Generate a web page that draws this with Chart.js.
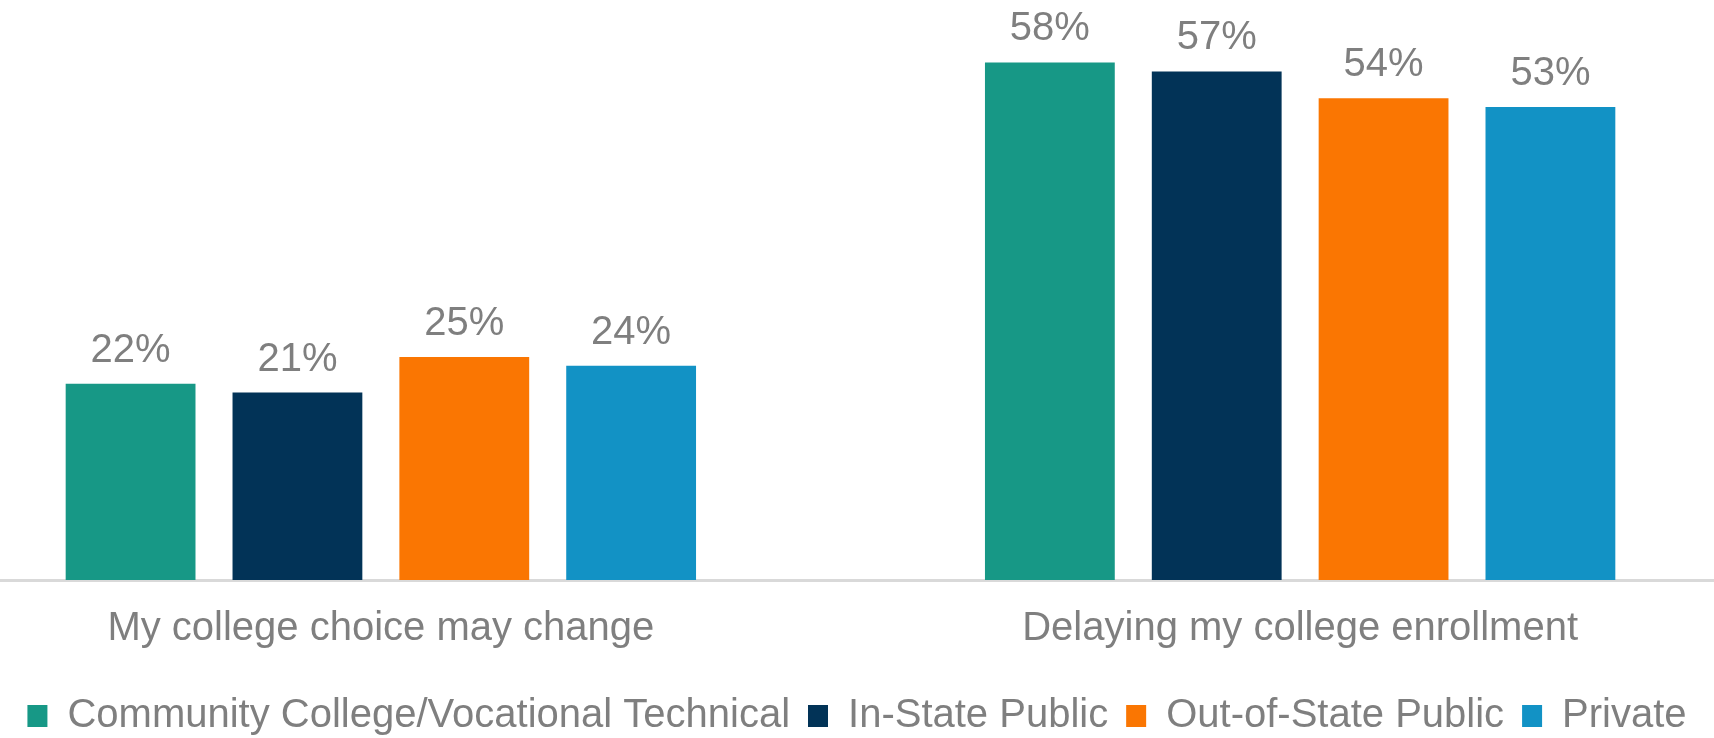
<!DOCTYPE html>
<html lang="en">
<head>
  <meta charset="UTF-8">
  <title>College Plans</title>
  <style>
    body {
      margin: 0;
      background-color: white;
    }
    .chart-box {
      width: 1714px;
      height: 738px;
      position: relative;
    }
  </style>
  <script src="https://cdn.jsdelivr.net/npm/chart.js"></script>
</head>
<body>
  <div class="chart-box">
    <canvas id="collegeChart"></canvas>
  </div>

  <script>
    const categories = ['My college choice may change', 'Delaying my college enrollment'];
    const seriesNames = ['Community College/Vocational Technical', 'In-State Public', 'Out-of-State Public', 'Private'];
    const communityCollege = [22, 58];
    const inStatePublic = [21, 57];
    const outOfStatePublic = [25, 54];
    const privateCollege = [24, 53];
    const seriesColors = ['#179886', '#023357', '#fa7602', '#1292c5'];

    const allSeries = [communityCollege, inStatePublic, outOfStatePublic, privateCollege];
    const textGray = '#7f7f7f';
    const fontFamily = "'Liberation Sans', Arial, sans-serif";

    // percent labels above each bar
    const valueLabels = {
      id: 'valueLabels',
      afterDatasetsDraw(chart) {
        const ctx = chart.ctx;
        ctx.save();
        ctx.font = '40px ' + fontFamily;
        ctx.fillStyle = textGray;
        ctx.textAlign = 'center';
        ctx.textBaseline = 'alphabetic';
        chart.data.datasets.forEach((ds, i) => {
          chart.getDatasetMeta(i).data.forEach((bar, j) => {
            ctx.fillText(ds.data[j].y + '%', bar.x, bar.y - 22);
          });
        });
        ctx.restore();
      }
    };

    const ctx = document.getElementById('collegeChart').getContext('2d');
    const collegeChart = new Chart(ctx, {
      type: 'bar',
      data: {
        datasets: seriesNames.map((name, i) => ({
          label: name,
          data: allSeries[i].map((v, j) => ({ x: j, y: v })),
          backgroundColor: seriesColors[i],
          borderWidth: 0,
          barPercentage: 0.778,
          categoryPercentage: 0.726
        }))
      },
      options: {
        responsive: true,
        maintainAspectRatio: false,
        animation: false,
        layout: {
          padding: { top: 0, left: 0, right: 0, bottom: -8 }
        },
        scales: {
          x: {
            type: 'linear',
            offset: false,
            min: -0.4143,
            max: 1.4502,
            afterBuildTicks: (axis) => {
              axis.ticks = categories.map((c, i) => ({ value: i }));
            },
            // the long labels should not squeeze the plot area
            afterFit: (axis) => {
              axis.paddingLeft = 0;
              axis.paddingRight = 0;
            },
            grid: { display: false, drawTicks: false },
            border: { display: true, color: '#d9d9d9', width: 3 },
            ticks: {
              autoSkip: false,
              maxRotation: 0,
              padding: -3,
              color: textGray,
              font: { family: fontFamily, size: 40, lineHeight: 2.6 },
              callback: (value) => categories[value]
            }
          },
          y: {
            display: false,
            min: 0,
            max: 65
          }
        },
        plugins: {
          legend: {
            position: 'bottom',
            labels: {
              boxWidth: 20,
              boxHeight: 22,
              padding: 18,
              color: textGray,
              font: { family: fontFamily, size: 40 }
            }
          },
          tooltip: { enabled: false }
        }
      },
      plugins: [valueLabels]
    });
  </script>
</body>
</html>
